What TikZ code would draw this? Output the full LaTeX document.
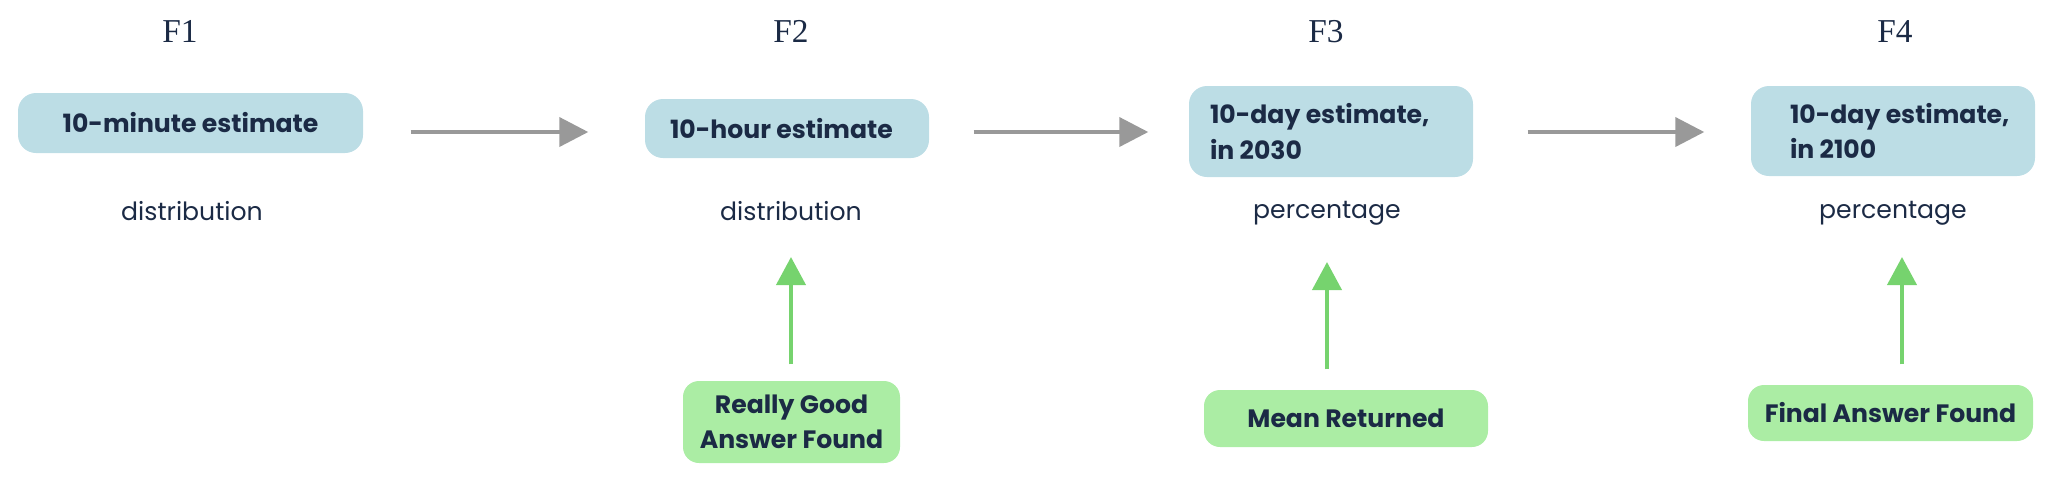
\documentclass[tikz,border=0pt]{standalone}
\usepackage{fontspec}
\setmainfont{Liberation Serif}
\newfontfamily\popfont{Poppins}
\usepackage{tikz}
\usetikzlibrary{arrows.meta,positioning}
\definecolor{boxblue}{RGB}{188,221,229}
\definecolor{boxgreen}{RGB}{171,237,164}
\definecolor{arrowgreen}{RGB}{118,211,110}
\definecolor{arrowgray}{RGB}{153,153,153}
\definecolor{inkblue}{RGB}{27,42,69}
\tikzset{
  estbox/.style={rectangle,rounded corners=0.18cm,fill=boxblue,inner sep=0pt},
  foundbox/.style={rectangle,rounded corners=0.16cm,fill=boxgreen,inner sep=0pt,
    align=center,text=inkblue,font=\popfont\bfseries\fontsize{7.15}{10}\selectfont},
  boxtext/.style={inner sep=0pt,align=left,text=inkblue,
    font=\popfont\bfseries\fontsize{7.15}{10}\selectfont},
  kindlabel/.style={inner sep=0pt,anchor=base,text=inkblue,
    font=\popfont\fontsize{7.15}{10}\selectfont},
  stagelabel/.style={inner sep=0pt,anchor=base,text=inkblue,
    font=\fontsize{9.5}{11}\selectfont},
  grayarr/.style={-{Triangle[length=0.29cm,width=0.29cm]},line width=0.04cm,draw=arrowgray},
  greenarr/.style={-{Triangle[length=0.28cm,width=0.29cm]},line width=0.04cm,draw=arrowgreen}
}

\begin{document}
\begin{tikzpicture}
\useasboundingbox (0,0) rectangle (20.48,-4.78);

% stage titles
\node[stagelabel] (f1) at (1.80,-0.42) {F1};
\node[stagelabel] (f2) at (7.91,-0.42) {F2};
\node[stagelabel] (f3) at (13.26,-0.42) {F3};
\node[stagelabel] (f4) at (18.95,-0.42) {F4};

% estimate boxes
\node[estbox,minimum width=3.45cm,minimum height=0.60cm] (box1) at (1.905,-1.23) {};
\node[estbox,minimum width=2.84cm,minimum height=0.59cm] (box2) at (7.87,-1.285) {};
\node[estbox,minimum width=2.84cm,minimum height=0.91cm] (box3) at (13.31,-1.315) {};
\node[estbox,minimum width=2.84cm,minimum height=0.90cm] (box4) at (18.93,-1.31) {};

\node[boxtext] (t1) at (box1) {10-minute estimate};
\node[boxtext,right=0.25cm of box2.west] (t2) {10-hour estimate};
\node[boxtext,right=0.21cm of box3.west] (t3) {10-day estimate,\\in 2030};
\node[boxtext,right=0.39cm of box4.west] (t4) {10-day estimate,\\in 2100};

% output kinds
\node[kindlabel] (lab1) at (1.92,-2.20) {distribution};
\node[kindlabel] (lab2) at (7.91,-2.20) {distribution};
\node[kindlabel] (lab3) at (13.27,-2.18) {percentage};
\node[kindlabel] (lab4) at (18.93,-2.18) {percentage};

% flow between stages
\draw[grayarr,shorten <=0.47cm,shorten >=0.56cm] (box1.east |- 0,-1.32) -- (box2.west |- 0,-1.32);
\draw[grayarr,shorten <=0.44cm,shorten >=0.40cm] (box2.east |- 0,-1.32) -- (box3.west |- 0,-1.32);
\draw[grayarr,shorten <=0.54cm,shorten >=0.46cm] (box3.east |- 0,-1.32) -- (box4.west |- 0,-1.32);

% stopping conditions
\node[foundbox,minimum width=2.17cm,minimum height=0.82cm] (g2) at (7.915,-4.22) {Really Good\\Answer Found};
\node[foundbox,minimum width=2.84cm,minimum height=0.57cm] (g3) at (13.46,-4.185) {Mean Returned};
\node[foundbox,minimum width=2.85cm,minimum height=0.56cm] (g4) at (18.905,-4.13) {Final Answer Found};

\coordinate (tip4) at ([xshift=0.09cm]lab4.base);
\draw[greenarr,shorten <=0.16cm,shorten >=0.37cm] (g2.north -| lab2.base) -- (lab2.base);
\draw[greenarr,shorten <=0.20cm,shorten >=0.44cm] (g3.north -| lab3.base) -- (lab3.base);
\draw[greenarr,shorten <=0.20cm,shorten >=0.39cm] (g4.north -| tip4) -- (tip4);

\end{tikzpicture}
\end{document}
